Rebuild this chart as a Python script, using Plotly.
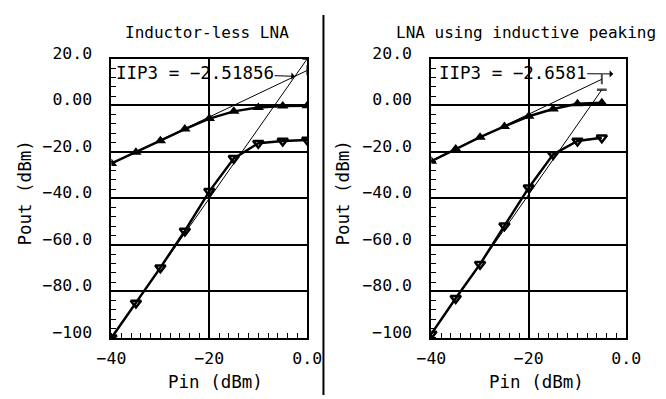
import plotly.graph_objects as go

# ---- data ----
pin_a = [-40, -35, -30, -25, -20, -15, -10, -5, 0]
fund_a = [-25.0, -20.2, -15.2, -10.2, -5.7, -2.6, -0.9, -0.3, -0.2]
im3_a = [-100.0, -85.0, -69.8, -54.0, -37.0, -22.8, -16.3, -15.3, -14.9]
ext_a_x = [-40, 0]
ext1_a_y = [-25.0, 15.0]
ext3_a_y = [-100.0, 20.0]
iip3_a = -2.51856
iip3_a_out = 12.48

pin_b = [-40, -35, -30, -25, -20, -15, -10, -5]
fund_b = [-24.0, -18.8, -13.7, -9.1, -4.7, -1.6, 0.7, 1.1]
im3_b = [-98.3, -83.0, -68.3, -51.8, -35.4, -21.1, -15.3, -13.9]
ext_b_x = [-40, -5]
ext1_b_y = [-23.8, 11.2]
ext3_b_y = [-98.3, 6.7]
iip3_b = -2.6581
iip3_b_out = 13.5

titles = ["Inductor-less LNA", "LNA using inductive peaking"]
x_title = "Pin (dBm)"
y_title = "Pout (dBm)"
x_tickvals = [-40, -20, 0]
x_ticktext = ["−40", "−20", "0.0"]
y_tickvals = [20, 0, -20, -40, -60, -80, -100]
y_ticktext = ["20.0", "0.00", "−20.0", "−40.0", "−60.0", "−80.0", "−100"]

FONT = "DejaVu Sans Mono"
W, H = 666, 399

fig = go.Figure()


def add_panel(xa, ya, pin, fund, im3, ex, e1, e3):
    fig.add_trace(go.Scatter(x=ex, y=e1, mode="lines+markers", xaxis=xa, yaxis=ya,
                             line=dict(color="black", width=1),
                             marker=dict(symbol="line-ns-open", size=[0, 7],
                                         line=dict(color="black", width=2)),
                             showlegend=False, hoverinfo="skip"))
    fig.add_trace(go.Scatter(x=ex, y=e3, mode="lines+markers", xaxis=xa, yaxis=ya,
                             line=dict(color="black", width=1),
                             marker=dict(symbol="line-ew-open", size=[0, 7],
                                         line=dict(color="black", width=2.5)),
                             showlegend=False, hoverinfo="skip"))
    fig.add_trace(go.Scatter(x=pin, y=fund, mode="lines+markers", xaxis=xa, yaxis=ya,
                             line=dict(color="black", width=2.5),
                             marker=dict(symbol="triangle-up", size=10, color="black"),
                             showlegend=False))
    fig.add_trace(go.Scatter(x=pin, y=im3, mode="lines+markers", xaxis=xa, yaxis=ya,
                             line=dict(color="black", width=2.5),
                             marker=dict(symbol="triangle-down-open", size=9, color="black",
                                         line=dict(color="black", width=2.5)),
                             showlegend=False))


add_panel("x", "y", pin_a, fund_a, im3_a, ext_a_x, ext1_a_y, ext3_a_y)
add_panel("x2", "y2", pin_b, fund_b, im3_b, ext_b_x, ext1_b_y, ext3_b_y)

ydom = [(H - 339) / H, (H - 46) / H]


def xax(dom, anchor):
    return dict(domain=dom, anchor=anchor, range=[-40, 0], showline=True, mirror=True,
                linecolor="black", linewidth=2, showgrid=True, gridcolor="black",
                gridwidth=1.5, zeroline=False, tickvals=x_tickvals, ticktext=x_ticktext,
                ticks="", ticklabelstandoff=4,
                tickfont=dict(family=FONT, size=16.5, color="black"),
                minor=dict(dtick=2, ticks="inside", ticklen=5, tickwidth=1,
                           tickcolor="black", showgrid=False),
                fixedrange=True)


def yax(anchor):
    return dict(domain=ydom, anchor=anchor, range=[-100, 20], showline=True, mirror=True,
                linecolor="black", linewidth=2, showgrid=True, gridcolor="black",
                gridwidth=1.5, zeroline=False, tickvals=y_tickvals, ticktext=y_ticktext,
                ticks="", ticklabelstandoff=14, ticklabelshift=-6,
                tickfont=dict(family=FONT, size=16.5, color="black"),
                minor=dict(dtick=4, ticks="inside", ticklen=5, tickwidth=1,
                           tickcolor="black", showgrid=False),
                fixedrange=True)


fig.update_layout(
    width=W, height=H, margin=dict(l=0, r=0, t=0, b=0),
    paper_bgcolor="white", plot_bgcolor="white",
    font=dict(family=FONT, size=16, color="black"),
    xaxis=xax([101 / W, 306 / W], "y"),
    yaxis=yax("x"),
    xaxis2=xax([436 / W, 640 / W], "y2"),
    yaxis2=yax("x2"),
    shapes=[dict(type="line", xref="paper", yref="paper", x0=323 / W, x1=323 / W,
                 y0=0, y1=1, line=dict(color="black", width=2))],
)

ann = []
for cx, t in zip([201, 535], titles):
    ann.append(dict(text=t, xref="paper", yref="paper", x=cx / W, y=(H - 18) / H,
                    showarrow=False, xanchor="center", yanchor="middle",
                    font=dict(family=FONT, size=16)))
for cx in [210, 546]:
    ann.append(dict(text=x_title, xref="paper", yref="paper", x=cx / W, y=(H - 385) / H,
                    showarrow=False, xanchor="center", yanchor="middle",
                    font=dict(family=FONT, size=17.5)))
for cx in [11, 344]:
    ann.append(dict(text=y_title, xref="paper", yref="paper", x=cx / W, y=(H - 187) / H,
                    showarrow=False, xanchor="center", yanchor="middle", textangle=-90,
                    font=dict(family=FONT, size=17.5)))
ann.append(dict(text="IIP3 = −2.51856", xref="x", yref="y", x=iip3_a, y=iip3_a_out,
                axref="x", ayref="y", ax=-22.9, ay=13.8, showarrow=True, arrowhead=1,
                arrowsize=1.2, arrowwidth=1, arrowcolor="black", borderpad=0,
                font=dict(family=FONT, size=17.5)))
ann.append(dict(text="IIP3 = −2.6581", xref="x2", yref="y2", x=iip3_b, y=iip3_b_out,
                axref="x2", ayref="y2", ax=-23.3, ay=13.8, showarrow=True, arrowhead=1,
                arrowsize=1.2, arrowwidth=1, arrowcolor="black", borderpad=0,
                font=dict(family=FONT, size=17.5)))
fig.update_layout(annotations=ann)

fig.write_html("out.html",
               config={"displayModeBar": False},
               post_script="document.body.style.margin='0';"
                           "document.body.style.overflow='hidden';")
